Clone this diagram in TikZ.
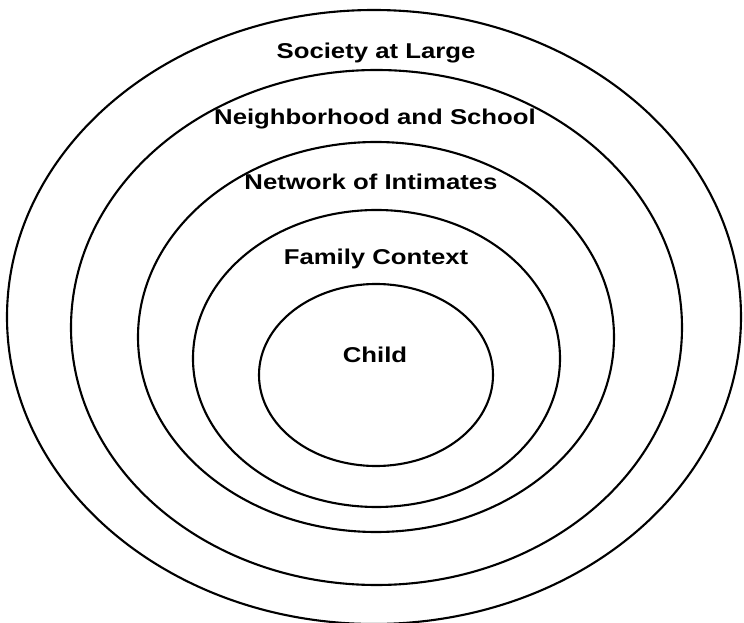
\documentclass[tikz,border=0pt]{standalone}
\usepackage{fontspec}
\setmainfont{Liberation Sans}[FakeStretch=1.2]
\usetikzlibrary{positioning}

\begin{document}
\begin{tikzpicture}[
    ring/.style={line width=0.6pt},
    ringlabel/.style={anchor=base, inner sep=0pt, font=\fontsize{6.1pt}{7pt}\selectfont\bfseries}
]
    \useasboundingbox (0, 0) rectangle (7.44, 6.23);

    % --- Nested Rings ---
    \draw[ring] (3.74, 3.06) ellipse (3.67 and 3.07);
    \draw[ring] (3.765, 2.955) ellipse (3.055 and 2.575);
    \draw[ring] (3.76, 2.86) ellipse (2.38 and 1.95);
    \draw[ring] (3.765, 2.645) ellipse (1.835 and 1.485);
    \draw[ring] (3.76, 2.48) ellipse (1.17 and 0.91);

    % --- Ring Labels ---
    \node[ringlabel] (society) at (3.76, 5.64) {Society at Large};
    \node[ringlabel] (neighborhood) at (3.75, 4.98) {Neighborhood and School};
    \node[ringlabel] (network) at (3.71, 4.33) {Network of Intimates};
    \node[ringlabel] (family) at (3.76, 3.58) {Family Context};
    \node[ringlabel] (child) at (3.75, 2.60) {Child};

\end{tikzpicture}
\end{document}
